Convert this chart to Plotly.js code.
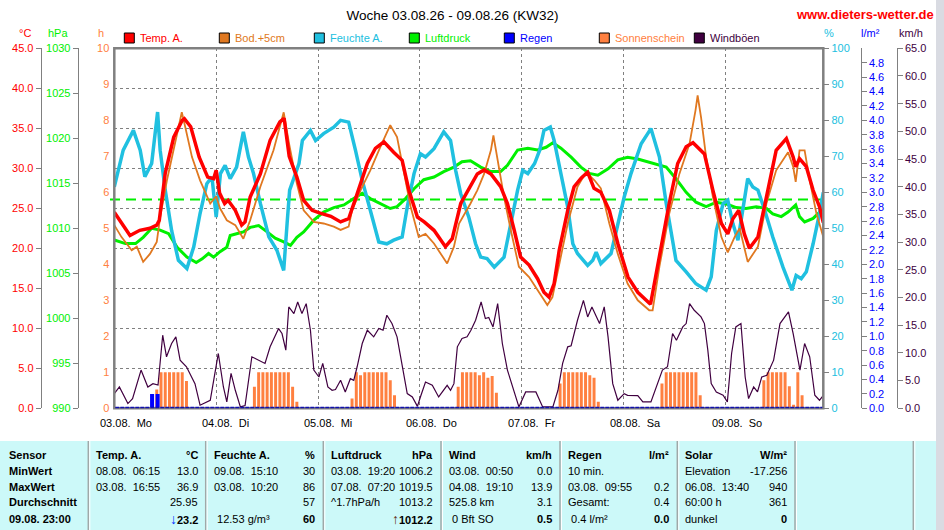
<!DOCTYPE html>
<html><head><meta charset="utf-8">
<script src="https://cdn.plot.ly/plotly-3.0.1.min.js"></script>
<style>html,body{margin:0;padding:0;background:#fff;}#chart{width:944px;height:530px;}</style>
</head><body><div id="chart"></div>
<script>
// ---------- DATA (hours since 03.08. 00:00) ----------
const tempH = [0,1.7,3.7,6,8.4,10,10.6,12,14,16,16.5,18,20,22,23.4,24,24.8,26,26.8,28.5,30,30.8,32,34.4,36.7,39,40,41.2,43,44.6,46.6,48.5,51,53.3,55.2,57.2,59.6,61.5,63.5,65.8,67.8,69.4,71.4,73,75.3,78,79.6,81.6,83.5,85.5,87.1,88.7,91,92.6,94.2,95.7,97.7,99.7,101.2,102.4,103.6,104.8,106.8,108.3,110,111.5,113,114.6,116.6,118.6,121,123.3,126.3,128.4,130.7,132.7,134.7,136.3,139,141,143,144.5,145.7,147.1,148.4,149.6,151.6,153.6,155.9,158.3,159.9,160.5,161.4,163,164.6,166.1,167];
const tempV = [24.5,23.1,21.6,22.25,22.5,22.9,23.5,29.4,33.9,36.0,36.2,35.2,31.4,28.9,28.7,29.75,26.9,25.6,26.0,24.75,22.9,23.3,26.4,29.3,33.5,35.8,36.25,31.5,28.9,26.0,24.75,24.4,24.0,23.3,23.7,26.8,30.6,32.5,33.3,32.0,31.0,27.25,23.9,23.3,22.25,20.2,21.2,25.6,27.3,29.3,29.8,29.3,27.7,25.6,22.25,18.9,17.9,16.2,14.5,13.9,15.6,19.75,24.75,27.7,28.8,29.5,27.5,27.0,24.75,20.6,16.4,14.5,13.0,18.9,25.6,30.6,32.7,33.2,31.8,27.25,23.1,21.8,23.7,24.75,21.8,20.0,21.4,26.4,32.25,33.7,31.4,30.2,31.2,30.2,27.25,25.2,23.2];

const soilH = [0,1.7,4.1,5.3,6.8,8.4,10,10.8,12.4,14.3,15.9,16.7,18.3,20.2,22.6,24,24.9,26.5,28.5,30.4,32,34.4,37.5,39.9,41.2,43,44.6,47,49.3,51.7,53.3,55.2,56,58,60.3,62.7,65,66.6,68.2,69.8,71.7,73.3,75.3,78.4,80,81.2,83.9,85.5,87.1,88.7,89.3,90.2,91.8,93.4,95.3,97.7,99.7,102,103.2,104.8,106.8,109.1,111.1,113.1,114.6,116.6,118.6,120.9,123.3,126,126.8,128.4,130.7,133.1,135.5,136.9,137.4,138.2,139.4,141,143,144.5,146.1,147.3,148.4,149.2,151.6,153.6,155.9,158.7,159.9,160.5,161.4,162.6,163.8,165.4,167];
const soilV = [22.9,21.4,19.75,20.2,18.3,19.3,20.8,23.9,28.5,33.1,37.0,35.2,31.4,28.5,25.6,26.5,25.0,23.5,22.9,21.2,23.5,27.7,32.25,37.0,33.0,28.1,24.75,23.3,23.1,22.7,22.3,22.7,24.75,27.25,29.75,32.7,35.4,33.9,29.3,25.2,21.4,21.8,20.6,18.1,20.2,23.1,25.6,27.25,29.3,32.25,34.1,31.4,26.4,22.25,17.7,16.4,14.75,12.9,13.9,18.1,23.1,27.7,29.5,28.5,27.5,23.1,19.3,15.6,13.5,12.25,12.25,17.7,24.3,29.3,33.1,37.25,39.1,36.4,31.4,26.4,21.4,19.5,21.4,22.5,20.2,18.3,20.2,25.6,29.75,32.0,30.2,28.3,32.25,32.25,28.5,24.3,21.4];

const humH = [0,2.1,4.5,6.1,7.2,8.8,10.2,10.8,12,13.5,15.1,17.1,18.7,20.2,21.8,23,24,25,26.1,27.3,28.8,30.4,31.6,32.8,34.4,36.4,38.3,39.9,40.7,41.3,43.5,44.3,46.2,47.4,49.3,51.7,53.3,55.2,56.8,58.4,60.3,62.3,64.2,65.8,67.8,69,70.6,72.1,73.3,75.3,77.6,79.2,80.4,81.6,83.5,85.1,86.3,87.8,89.5,91.8,93.4,95,96.2,97.4,99,100.2,101.2,102.7,103.6,105.2,106.8,108,109.1,111.5,112.7,113.5,114.6,117,118.6,120.1,121.7,124.1,126.4,128.4,130,132.3,134.7,137,139.4,140.6,141.8,143.4,144.5,145.7,146.9,148.1,149.2,150.4,151.6,153.2,155.1,157.5,159.6,160.6,161.8,163,164.6,166.1,167];
const humV = [61.5,71.7,77.2,71.7,64.3,68,82.3,71.7,60.6,49.4,41.1,38.8,44.8,54.1,62.4,64.3,53.1,65.2,67.5,63.8,67,76.8,69.8,65.2,56.9,47.6,43.9,38.3,51.3,60.6,68,74.4,77.2,74.4,76.3,78.1,80,79.5,71.7,63.3,55,46.2,45.7,46.7,47.6,55.9,65.2,70.7,69.8,72.1,76.8,74.4,66.1,59.6,53.1,45.7,42,41.6,39.2,42,51.3,60.6,66.1,65.2,68,71.7,77.2,78.1,74.4,65.2,55.9,45.7,43,39.7,41.1,43.4,40.2,43,51.3,58.7,65.2,73.5,77.7,69.8,56.9,41.1,37.9,34.6,32.8,36.5,49.4,56.9,57.8,51.3,46.7,55,63.8,61.5,60.6,55,47.6,39.2,32.8,36.9,36,37.9,45.7,54.1,60];

const presH = [0,2.6,5,6.8,8.8,10.8,12.8,14.8,17.1,19.3,20.7,22.2,23.4,24.9,26.5,27.3,28.8,30.4,32,34,36,37.9,39.9,41.5,43,44.6,47,49.3,51.7,54.1,56.4,58.4,60.3,62.7,65,66.6,68.6,70.6,72.9,75.3,77.6,80,81.9,83.9,86.3,88.7,91,92.6,95,97.4,99.7,101.7,103.3,105.2,107.6,109.9,111.9,113.9,116.3,118.6,120.9,123.3,125.5,127.5,130,132.3,134.7,137,139.4,141.8,144.2,146.5,148.8,151.2,153.6,155.1,157.1,158.7,160.5,161.4,162.6,164.6,166.1,167];
const presV = [1008.7,1008.3,1008.3,1009,1010,1009.8,1009.4,1007.9,1006.8,1006.2,1006.6,1007.2,1006.8,1007.4,1007.9,1009.2,1009.4,1009.6,1010.1,1010.3,1009.6,1008.9,1008.5,1008.1,1009,1009.6,1010.9,1011.8,1012.3,1012.6,1013.3,1013.9,1013.3,1012.7,1012.2,1012.4,1013.3,1014.4,1015.4,1015.7,1016.3,1016.8,1017.4,1017.5,1016.8,1016.3,1016.3,1017,1018.7,1018.9,1018.7,1019,1019.5,1018.9,1017.9,1016.8,1016.1,1015.9,1016.6,1017.6,1017.9,1017.7,1017.4,1017.2,1016.8,1015.5,1014,1012.9,1012.4,1012.9,1012.7,1012.3,1012.2,1012.4,1012.2,1011.6,1011.3,1011.8,1012.6,1011.3,1010.7,1011.1,1011.8,1012.2];
const presAvg = 1013.2;

const windH = [0,1.2,3.2,4.3,6.3,7.9,9.1,10.3,11.4,12.3,13.5,14.5,15.5,17,19,20.2,22.6,24.5,25.7,26.5,27.5,28.5,29.7,30.8,32.4,35.5,36.7,38.7,39.5,40.4,41.1,42.3,43.2,44.2,45.2,46.2,47,48.2,49.1,50.3,51.3,52.1,53.3,54.4,55.6,56.4,57.2,58.4,59.6,61.1,62.3,63.3,64.2,65.4,66.6,67.8,69,70.2,71.4,72.1,73.3,74.9,76.4,78.4,79.2,80,80.8,81.9,83.1,84,85.1,86.4,87.4,88.2,89.2,90.3,91.4,92.6,93.8,95.3,96.9,99.3,100.9,103.3,104.5,105.6,106.8,107.6,109.1,110.5,111.5,112.5,114.3,115.4,116.3,117.4,118.6,120.1,120.9,123.3,124.5,126.4,129.1,130.3,131.5,132.4,133.9,134.7,135.5,136.6,138.2,139,139.8,140.6,141.8,143.4,144.4,145.4,146.4,147.6,148.6,149.4,150.6,151.5,152.5,153.7,155.3,156.8,158.8,159.9,161.5,162.6,163.8,165,166.1,167];
const windV = [2.65,3.85,0.85,1.75,6.9,3.85,4.45,4.2,13.2,9.3,11.7,12.9,8.7,7.5,4.45,0.55,1.45,9.9,3.85,1.15,6.3,3.25,0.25,0.5,9.3,8.1,11.1,14.4,13.5,10.5,18.3,17.1,19.2,17.1,18.9,14.1,6.9,5.65,8.1,3.85,3.25,3.4,5.05,2.95,5.35,5.05,7.5,11.7,14.1,12.9,14.4,14.1,16.8,15.3,12.9,7.5,2.65,2.05,0.35,2.05,4.75,4.15,2.05,4.15,3.25,4.45,11.1,12.6,12.9,14.1,15.9,19.2,16.2,16.4,14.7,18.9,11.7,6.9,3.85,0.25,2.95,2.95,0.25,0.25,3.25,8.1,11.1,11.3,15.9,19.5,16.5,18.3,15.3,18.3,12.9,4.45,1.45,2.65,2.35,2.3,1.15,1.15,6.9,7.5,13.5,12.3,14.7,15.3,18.9,17.7,16.5,15.3,10.5,4.45,2.95,2.35,1.15,9.9,14.7,15.3,5.65,1.75,3.85,2.95,5.65,5.95,8.7,15.3,17.4,13.5,6.9,11.7,9.3,2.35,1.45,2.35];

const sunH = [10,11,12,13,14,15,16,17, 33,34,35,36,37,38,39,40,41,42,43, 56,57,58,59,60,61,62,63,64,65,66, 81,82,83,84,85,86,87,88,89,90, 105,106,107,108,109,110,111,112,113,114, 129,130,131,132,133,134,135,136,137,138, 153,154,155,156,157,158,159,160,161,162];
const sunV = [0.52,1,1,1,1,1,1,0.76, 0.6,1,1,1,1,1,1,1,1,0.6,0.18, 0.27,1,0.92,1,1,1,1,1,1,0.78,0.36, 0.6,1,1,1,1,0.92,1,0.85,0.9,0.43, 0.69,1,1,1,1,1,1,0.92,0.85,0.18, 0.69,1,1,1,1,1,1,1,1,0.36, 0.78,1,1,1,1,1,0.61,0.1,1,0.36];

const rainH = [8.9, 10.2];
const rainV = [0.2, 0.2];

const dayTicks = [0,24,48,72,96,120,144];
const dayDates = ['03.08.','04.08.','05.08.','06.08.','07.08.','08.08.','09.08.'];
const dayNames = ['Mo','Di','Mi','Do','Fr','Sa','So'];

const legendNames = ['Temp. A.','Bod.+5cm','Feuchte A.','Luftdruck','Regen','Sonnenschein','Windböen'];

const tableRowLabels = ['Sensor','MinWert','MaxWert','Durchschnitt','09.08.\u00a023:00'];
const tableTemp  = [['Temp. A.','°C'],['08.08.\u00a0\u00a006:15','13.0'],['03.08.\u00a0\u00a016:55','36.9'],['','25.95'],['','↓23.2']];
const tableHum   = [['Feuchte A.','%'],['09.08.\u00a0\u00a015:10','30'],['03.08.\u00a0\u00a010:20','86'],['','57'],['\u00a012.53 g/m³','60']];
const tablePres  = [['Luftdruck','hPa'],['03.08.\u00a0\u00a019:20','1006.2'],['07.08.\u00a0\u00a007:20','1019.5'],['^1.7hPa/h','1013.2'],['','↑1012.2']];
const tableWind  = [['Wind','km/h'],['03.08.\u00a0\u00a000:50','0.0'],['04.08.\u00a0\u00a019:10','13.9'],['525.8 km','3.1'],['\u00a00 Bft SO','0.5']];
const tableRain  = [['Regen','l/m²'],['10 min.',''],['03.08.\u00a0\u00a009:55','0.2'],['Gesamt:','0.4'],['\u00a00.4 l/m²','0.0']];
const tableSolar = [['Solar','W/m²'],['Elevation','-17.256'],['06.08.\u00a0\u00a013:40','940'],['60:00 h','361'],['dunkel','0']];

// ---------- LAYOUT HELPERS ----------
const W=944,H=530;
const px=x=>x/W, py=y=>1-y/H;
const FONT='Liberation Sans, Arial, Helvetica, sans-serif';
const L=114.3,R=823.3,T=48.3,B=408.3;
const C = {temp:'#ff0000', soil:'#e07820', hum:'#20c0e0', pres:'#00f000', rain:'#0000ff', sun:'#ff8040', wind:'#400040', grid:'#808080'};
const legendColors = [C.temp,C.soil,C.hum,C.pres,C.rain,C.sun,C.wind];

const rainTicks=[]; for(let i=0;i<=24;i++) rainTicks.push(+(i*0.2).toFixed(1));

const traces = [
  {type:'bar', x:sunH, y:sunV, width:0.7, marker:{color:C.sun, line:{width:0}}, xaxis:'x', yaxis:'y', hoverinfo:'skip'},
  {type:'bar', x:rainH, y:rainV, width:0.95, marker:{color:C.rain, line:{width:0}}, xaxis:'x', yaxis:'y2', hoverinfo:'skip'},
  {type:'scatter', mode:'lines', x:windH, y:windV, line:{color:C.wind, width:1.2}, xaxis:'x', yaxis:'y3', hoverinfo:'skip'},
  {type:'scatter', mode:'lines', x:presH, y:presV, line:{color:C.pres, width:3}, xaxis:'x', yaxis:'y4', hoverinfo:'skip'},
  {type:'scatter', mode:'lines', x:humH, y:humV, line:{color:C.hum, width:3.5}, xaxis:'x', yaxis:'y5', hoverinfo:'skip'},
  {type:'scatter', mode:'lines', x:soilH, y:soilV, line:{color:C.soil, width:1.8}, xaxis:'x', yaxis:'y6', hoverinfo:'skip'},
  {type:'scatter', mode:'lines', x:tempH, y:tempV, line:{color:C.temp, width:3.5}, xaxis:'x', yaxis:'y6', hoverinfo:'skip'}
];

const tf = c => ({family:FONT, size:11, color:c});
const sideAxis = (o) => Object.assign({overlaying:'y', zeroline:false, showgrid:false, automargin:false, fixedrange:true,
  ticks:'outside', ticklen:5, tickcolor:C.grid, tickwidth:1, showline:true, linecolor:C.grid, linewidth:1}, o);

const annotations = [];
const shapes = [];

annotations.push({xref:'paper',yref:'paper',x:px(944-79),y:py(14.5),xanchor:'center',yanchor:'middle',showarrow:false,
  text:'<b>www.dieters-wetter.de</b>', font:{family:FONT,size:13,color:'#ff0000'}});

legendNames.forEach((n,i)=>{
  const x0 = 124.3 + 95*i;
  shapes.push({type:'rect',xref:'paper',yref:'paper',x0:px(x0),x1:px(x0+10),y0:py(43),y1:py(33),
    fillcolor:legendColors[i], line:{color:'#000000',width:1}});
  annotations.push({xref:'paper',yref:'paper',x:px(x0+14.5),y:py(38),xanchor:'left',yanchor:'middle',showarrow:false,borderpad:0,
    text:n, font:tf(legendColors[i])});
});

[['°C',25,C.temp],['hPa',57.5,C.pres],['h',101.3,C.sun],['%',828.7,C.hum],['l/m²',870,C.rain],['km/h',911,C.wind]].forEach(u=>{
  annotations.push({xref:'paper',yref:'paper',x:px(u[1]),y:py(32.5),xanchor:'center',yanchor:'middle',showarrow:false,borderpad:0,
    text:u[0], font:tf(u[2])});
});

dayTicks.forEach((d,i)=>{
  annotations.push({xref:'x',yref:'paper',x:d,y:py(422.5),xanchor:'left',yanchor:'middle',xshift:-15,showarrow:false,borderpad:0,
    text:dayDates[i]+'\u00a0\u00a0'+dayNames[i], font:tf('#000000')});
});

shapes.push({type:'line',xref:'paper',yref:'y4',x0:px(110),x1:px(R),y0:presAvg,y1:presAvg,
  line:{color:C.pres,width:2,dash:'10px,6px'},layer:'below'});
shapes.push({type:'rect',xref:'paper',yref:'paper',x0:px(L),x1:px(R),y0:py(B),y1:py(T),
  line:{color:C.grid,width:2.5},layer:'above'});
shapes.push({type:'line',xref:'paper',yref:'paper',x0:px(L+1),x1:px(R-1),y0:py(407.5),y1:py(407.5),
  line:{color:'#1010b0',width:1.5,dash:'4px,1px'},layer:'above'});

shapes.push({type:'rect',xref:'paper',yref:'paper',x0:0,x1:px(936),y0:0,y1:py(441),fillcolor:'#ccf9f9',line:{width:0},layer:'below'});
shapes.push({type:'rect',xref:'paper',yref:'paper',x0:px(936),x1:1,y0:0,y1:1,fillcolor:'#d9dbe2',line:{width:0},layer:'above'});
const seps=[88.3,205.7,323.3,441,560,677.3,795,913.3];
seps.forEach(s=>{
  shapes.push({type:'line',xref:'paper',yref:'paper',x0:px(s),x1:px(s),y0:0,y1:py(441),line:{color:'#a0a8a8',width:1.5}});
  shapes.push({type:'line',xref:'paper',yref:'paper',x0:px(s+1.5),x1:px(s+1.5),y0:0,y1:py(441),line:{color:'#ffffff',width:1}});
});
const rowY=[455,471,486.5,502,518.5];
tableRowLabels.forEach((t,r)=>{
  annotations.push({xref:'paper',yref:'paper',x:px(8.3),y:py(rowY[r]),xanchor:'left',yanchor:'middle',showarrow:false,borderpad:0,
    text:'<b>'+t+'</b>',font:tf('#000000')});
});
const fmtRight=(v,r)=>{
  if(r===0) return '<b>'+v+'</b>';
  if(r===4){
    if(v.startsWith('↓')) return '<span style="color:#0030ff;font-size:14px"><b>↓</b></span><b>'+v.slice(1)+'</b>';
    if(v.startsWith('↑')) return '<span style="color:#603010;font-size:14px"><b>↑</b></span><b>'+v.slice(1)+'</b>';
    return '<b>'+v+'</b>';
  }
  return v;
};
[tableTemp,tableHum,tablePres,tableWind,tableRain,tableSolar].forEach((col,ci)=>{
  const left=seps[ci]+7, right=seps[ci+1]-7;
  col.forEach((cell,r)=>{
    if(cell[0]) annotations.push({xref:'paper',yref:'paper',x:px(left),y:py(rowY[r]),xanchor:'left',yanchor:'middle',showarrow:false,borderpad:0,
      text:r===0?'<b>'+cell[0]+'</b>':cell[0],font:tf('#000000')});
    if(cell[1]) annotations.push({xref:'paper',yref:'paper',x:px(right),y:py(rowY[r]),xanchor:'right',yanchor:'middle',showarrow:false,borderpad:0,
      text:fmtRight(cell[1],r),font:tf('#000000')});
  });
});

const layout = {
  width:W, height:H, margin:{l:0,r:0,t:0,b:0,pad:0},
  paper_bgcolor:'#ffffff', plot_bgcolor:'#ffffff',
  showlegend:false, hovermode:false, barmode:'overlay',
  font:{family:FONT,size:11,color:'#000'},
  title:{text:'Woche 03.08.26 - 09.08.26 (KW32)', x:px(452.5), xanchor:'center', y:py(15), yanchor:'middle',
    font:{family:FONT,size:13.5,color:'#000000'}},
  xaxis:{domain:[px(L),px(R)], range:[0,167], tickvals:dayTicks, showticklabels:false, ticks:'',
    showgrid:true, gridcolor:C.grid, griddash:'3px,3px', gridwidth:1, zeroline:false, showline:false, fixedrange:true},
  yaxis:{domain:[py(B),py(T)], range:[0,10], tick0:0, dtick:1, showgrid:false, zeroline:false, ticks:'',
    showline:false, tickfont:tf(C.sun), ticklabelstandoff:4, automargin:false, fixedrange:true},
  yaxis2: sideAxis({anchor:'free', position:px(860.7), side:'right', range:[0,5], tickmode:'array', tickvals:rainTicks, tickformat:'.1f', tickfont:tf(C.rain)}),
  yaxis3: sideAxis({anchor:'free', position:px(896.7), side:'right', range:[0,65], tick0:0, dtick:5, tickformat:'.1f', tickfont:tf(C.wind)}),
  yaxis4: sideAxis({anchor:'free', position:px(77.7), side:'left', range:[990,1030], tick0:990, dtick:5, tickfont:tf(C.pres)}),
  yaxis5: sideAxis({anchor:'x', side:'right', range:[0,100], tick0:0, dtick:10, showline:false, tickfont:tf(C.hum)}),
  yaxis6: sideAxis({anchor:'free', position:px(40.7), side:'left', range:[0,45], tick0:0, dtick:5, tickformat:'.1f', tickfont:tf(C.temp),
    showgrid:true, gridcolor:C.grid, griddash:'3px,3px', gridwidth:1}),
  shapes:shapes, annotations:annotations
};

Plotly.newPlot('chart', traces, layout, {displayModeBar:false, staticPlot:true});
</script></body></html>
